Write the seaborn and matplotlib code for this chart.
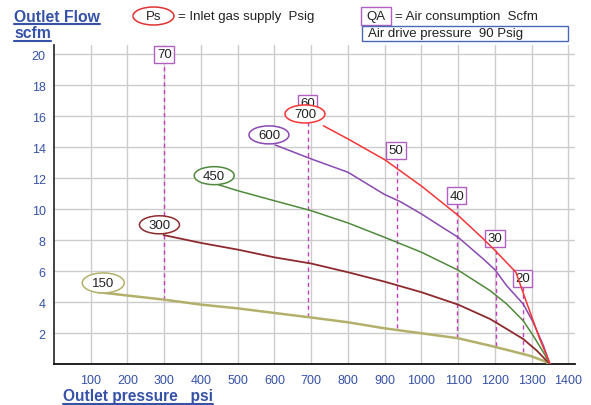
import numpy as np
import pandas as pd
import matplotlib
matplotlib.use("Agg")
import matplotlib.pyplot as plt
import seaborn as sns
from matplotlib.patches import Ellipse, Rectangle
from matplotlib.lines import Line2D

# ---------------- data ----------------
ps150_x = [121, 300, 400, 500, 600, 700, 800, 900, 1000, 1100, 1187, 1241, 1295, 1332, 1350]
ps150_y = [4.65, 4.17, 3.85, 3.61, 3.31, 3.02, 2.71, 2.32, 2.0, 1.68, 1.2, 0.88, 0.55, 0.23, 0.0]
ps300_x = [298, 400, 500, 600, 700, 800, 900, 1000, 1100, 1187, 1232, 1277, 1314, 1350]
ps300_y = [8.34, 7.83, 7.4, 6.9, 6.5, 5.94, 5.33, 4.65, 3.85, 2.92, 2.28, 1.63, 0.88, 0.0]
ps450_x = [447, 500, 600, 700, 800, 900, 1000, 1100, 1187, 1232, 1277, 1304, 1332, 1350]
ps450_y = [11.59, 11.2, 10.55, 9.91, 9.12, 8.19, 7.23, 6.07, 4.75, 3.89, 2.81, 1.85, 0.77, 0.0]
ps600_x = [602, 700, 800, 900, 942, 1000, 1050, 1100, 1168, 1200, 1232, 1277, 1304, 1332, 1350]
ps600_y = [14.15, 13.25, 12.39, 10.95, 10.5, 9.7, 8.94, 8.19, 6.8, 6.1, 5.07, 3.89, 2.71, 1.2, 0.0]
ps700_x = [733, 800, 900, 1000, 1100, 1168, 1200, 1257, 1286, 1304, 1322, 1341, 1350]
ps700_y = [15.39, 14.54, 13.2, 11.5, 9.6, 8.1, 7.35, 5.94, 4.0, 2.81, 1.63, 0.55, 0.0]

ps_labels = ["150", "300", "450", "600", "700"]
ps_label_x = [134, 287, 436, 585, 683]
ps_label_y = [5.25, 9.0, 12.17, 14.8, 16.15]

qa_labels = ["70", "60", "50", "40", "30", "20"]
qa_x = [300, 692, 933, 1098, 1203, 1277]
qa_bottom = [4.17, 3.03, 2.35, 1.7, 1.15, 0.77]
qa_label_x = [300, 690, 931, 1096, 1200, 1275]
qa_label_y = [20.0, 16.85, 13.8, 10.88, 8.13, 5.55]

x_ticks = [100, 200, 300, 400, 500, 600, 700, 800, 900, 1000, 1100, 1200, 1300, 1400]
y_ticks = [2, 4, 6, 8, 10, 12, 14, 16, 18, 20]

# ---------------- styling ----------------
colors = {"150": "#b2b06a", "300": "#8e2a2e", "450": "#4f8a3c",
          "600": "#8a48b0", "700": "#f53535"}
widths = {"150": 1.8, "300": 1.3, "450": 1.1, "600": 1.1, "700": 1.1}
blue = "#3552a8"
qa_color = "#c040c0"

sns.set_style("white")
plt.rcParams["font.family"] = ["Liberation Sans", "DejaVu Sans"]

frames = []
for lab, xs, ys in zip(ps_labels,
                       [ps150_x, ps300_x, ps450_x, ps600_x, ps700_x],
                       [ps150_y, ps300_y, ps450_y, ps600_y, ps700_y]):
    frames.append(pd.DataFrame({"pressure": xs, "flow": ys, "Ps": lab}))
df = pd.concat(frames, ignore_index=True)

W, H = 591, 406
fig = plt.figure(figsize=(W / 100, H / 100), dpi=100)
ax = fig.add_axes([54 / W, 1 - 365.3 / H, (575 - 54) / W, (365.3 - 46) / H])

ax.set_xlim(0, (575 - 53.8) / 0.3676)
ax.set_ylim(0, (365.3 - 46) / 15.5)
ax.set_xticks(x_ticks)
ax.set_yticks(y_ticks)
ax.grid(True, color="#cccccc", linewidth=1.0)
ax.set_axisbelow(True)
for s in ["top", "right"]:
    ax.spines[s].set_visible(False)
ax.spines["left"].set_color("#333333")
ax.spines["left"].set_linewidth(1.3)
ax.spines["bottom"].set_color("#111111")
ax.spines["bottom"].set_linewidth(1.3)
ax.tick_params(axis="y", direction="inout", length=8, width=1, color="#333333",
               labelcolor=blue, labelsize=9, pad=2)
ax.tick_params(axis="x", length=0, labelcolor=blue, labelsize=9, pad=7)

# QA dashed verticals
for lab, x, yb, lx, ly in zip(qa_labels, qa_x, qa_bottom, qa_label_x, qa_label_y):
    ax.plot([x, x], [yb, ly], color=qa_color, linestyle=(0, (3, 2.5)), linewidth=1.0, zorder=2)
    ax.text(lx, ly, lab, ha="center", va="center", fontsize=9.5, color="#222222", zorder=3,
            bbox=dict(boxstyle="square,pad=0.18", facecolor="white", edgecolor="#b060c0", linewidth=1.0))

# Curves
for lab in ps_labels:
    sub = df[df["Ps"] == lab]
    sns.lineplot(data=sub, x="pressure", y="flow", color=colors[lab], linewidth=widths[lab],
                 sort=False, estimator=None, ax=ax, legend=False, zorder=4)
ax.set_xlabel("")
ax.set_ylabel("")

# Ps ellipses
for lab, x, y in zip(ps_labels, ps_label_x, ps_label_y):
    w_px, h_px = (42, 20) if lab == "150" else (40, 18)
    e = Ellipse((x, y), w_px / 0.3676, h_px / 15.5, facecolor="white",
                edgecolor=colors[lab], linewidth=1.1, zorder=5)
    ax.add_patch(e)
    ax.text(x, y, lab, ha="center", va="center", fontsize=9.5, color="#222222", zorder=6)

# ---------------- header / legend ----------------
def px(xp, yp):
    return (xp / 100, (H - yp) / 100)

tr = fig.dpi_scale_trans
t1 = fig.text(14 / W, 1 - 21.5 / H, "Outlet Flow", fontsize=11.3, fontweight="bold", color=blue, va="baseline")
t2 = fig.text(14 / W, 1 - 38.3 / H, "scfm", fontsize=11.3, fontweight="bold", color=blue, va="baseline")
t3 = fig.text(63 / W, 1 - 401 / H, "Outlet pressure   psi", fontsize=11.2, fontweight="bold",
              color=blue, va="baseline")

fig.canvas.draw()
r = fig.canvas.get_renderer()
for t, yline in [(t1, 24.5), (t2, 42.0), (t3, 404.5)]:
    bb = t.get_window_extent(renderer=r)
    fig.add_artist(Line2D([bb.x0 / 100, bb.x1 / 100], [(H - yline) / 100] * 2,
                          transform=tr, color=blue, linewidth=1.5))

fig.add_artist(Ellipse(px(153.5, 17), 0.41, 0.18, transform=tr, facecolor="white",
                       edgecolor="#e03030", linewidth=1.1))
fig.text(153.5 / W, 1 - 17 / H, "Ps", ha="center", va="center", fontsize=9.5, color="#222222")
fig.text(178 / W, 1 - 17 / H, "= Inlet gas supply  Psig", ha="left", va="center",
         fontsize=9.5, color="#222222")

fig.add_artist(Rectangle(px(361, 25.5), 0.30, 0.175, transform=tr, facecolor="white",
                         edgecolor="#b060c0", linewidth=1.0))
fig.text(376 / W, 1 - 17 / H, "QA", ha="center", va="center", fontsize=9.5, color="#222222")
fig.text(395 / W, 1 - 17 / H, "= Air consumption  Scfm", ha="left", va="center",
         fontsize=9.5, color="#222222")

fig.add_artist(Rectangle(px(362, 42), 2.06, 0.15, transform=tr, facecolor="white",
                         edgecolor="#4a68b8", linewidth=1.0))
fig.text(368 / W, 1 - 34.5 / H, "Air drive pressure  90 Psig", ha="left", va="center",
         fontsize=9.5, color="#222222")

fig.savefig("out.png", dpi=100)
